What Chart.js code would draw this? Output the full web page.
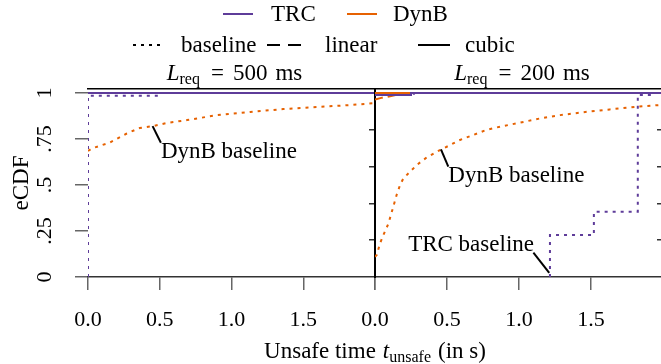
<!DOCTYPE html>
<html>
<head>
<meta charset="utf-8">
<script src="https://cdn.jsdelivr.net/npm/chart.js@4.4.1/dist/chart.umd.min.js"></script>
<style>
  body { margin: 0; background: #fff; }
  #wrap { position: relative; width: 661px; height: 364px; overflow: hidden; background: #fff; }
  #wrap canvas { position: absolute; left: 0; top: 0; }
</style>
</head>
<body>
<div id="wrap">
  <canvas id="c500" width="661" height="364"></canvas>
  <canvas id="c200" width="680" height="364"></canvas>
</div>
<script>
// ---- data (t in s, eCDF value) ----
// L_req = 500 ms
const t500TrcBase = [0, 0, 0.5, 2];
const v500TrcBase = [0, 0.985, 1, 1];
const t500TrcLin = [0, 2];
const v500TrcLin = [1, 1];
const t500TrcCub = [0, 2];
const v500TrcCub = [1, 1];
const t500DynBBase = [0, 0.03, 0.15, 0.27, 0.36, 0.45, 0.55, 0.69, 0.9, 1.13, 1.36, 1.6, 1.83, 2.0];
const v500DynBBase = [0.685, 0.7, 0.73, 0.78, 0.81, 0.82, 0.837, 0.853, 0.88, 0.897, 0.913, 0.924, 0.935, 0.945];
const t500DynBLin = [0, 2];
const v500DynBLin = [1, 1];
const t500DynBCub = [0, 2];
const v500DynBCub = [1, 1];

// L_req = 200 ms
const t200TrcBase = [1.215, 1.215, 1.52, 1.825, 1.93, 2];
const v200TrcBase = [0, 0.228, 0.355, 0.99, 1, 1];
const t200TrcLin = [0, 0.27, 2];
const v200TrcLin = [0.99, 1, 1];
const t200TrcCub = [0, 0.25, 2];
const v200TrcCub = [0.99, 1, 1];
const t200DynBBase = [0, 0.012, 0.035, 0.058, 0.093, 0.127, 0.15, 0.174, 0.197, 0.243, 0.29, 0.359, 0.451,
  0.521, 0.59, 0.683, 0.775, 0.868, 1.007, 1.146, 1.285, 1.47, 1.63, 1.817, 2.0];
const v200DynBBase = [0.11, 0.12, 0.183, 0.228, 0.29, 0.382, 0.446, 0.5, 0.536, 0.572, 0.609, 0.65, 0.69,
  0.717, 0.745, 0.772, 0.8, 0.817, 0.839, 0.862, 0.88, 0.898, 0.911, 0.926, 0.936];
const t200DynBLin = [0, 0.05, 0.12, 0.2, 2];
const v200DynBLin = [0.965, 0.975, 0.985, 1, 1];
const t200DynBCub = [0, 2];
const v200DynBCub = [1, 1];

// axes
const xTicks = [0, 0.5, 1, 1.5, 2];
const xLabels = ['0.0', '0.5', '1.0', '1.5', ''];
const yTicks = [0, 0.25, 0.5, 0.75, 1];
const yLabels = ['0', '.25', '.5', '.75', '1'];
const y2Ticks = [0.2, 0.4, 0.6, 0.8];

// annotations (data coords)
const notes500 = [
  { text: 'DynB baseline', from: [0.45, 0.82], to: [0.508, 0.73], at: [0.508, 0.678], align: 'left' }
];
const notes200 = [
  { text: 'DynB baseline', from: [0.458, 0.694], to: [0.509, 0.6], at: [0.509, 0.552], align: 'left' },
  { text: 'TRC baseline', from: [1.21, 0.023], to: [1.10, 0.132], at: [1.104, 0.174], align: 'right' }
];

const PURPLE = '#5e3c99';
const ORANGE = '#e66101';
const FONT = '"Liberation Serif", "Times New Roman", serif';
const FS = 22;   // tick labels
const TS = 23;   // words
const DOT = [3, 5];
const DASH = [8, 5];

function pts(ts, vs) {
  return ts.map((t, i) => ({ x: t, y: vs[i] }));
}

function line(label, ts, vs, color, dash, stepped) {
  return {
    label: label,
    data: pts(ts, vs),
    borderColor: color,
    borderWidth: 2,
    borderDash: dash,
    pointRadius: 0,
    fill: false,
    stepped: stepped ? 'before' : false,
    tension: 0
  };
}

// draws a run of text pieces (for subscripts / italics); gap = extra space before a piece
function drawParts(ctx, parts, cx, baseline, alignLeft) {
  let w = 0;
  parts.forEach(p => { ctx.font = p.font; w += ctx.measureText(p.text).width + (p.gap || 0); });
  let x = alignLeft ? cx : cx - w / 2;
  ctx.textAlign = 'left';
  ctx.textBaseline = 'alphabetic';
  ctx.fillStyle = '#000';
  parts.forEach(p => {
    ctx.font = p.font;
    x += p.gap || 0;
    ctx.fillText(p.text, x, baseline + (p.dy || 0));
    x += ctx.measureText(p.text).width;
  });
}

function panelPlugin(lreq, notes) {
  return {
    id: 'panel' + lreq,
    afterDraw(chart) {
      const ctx = chart.ctx;
      const xs = chart.scales.x, ys = chart.scales.y;
      const ca = chart.chartArea;
      const f = TS + 'px ' + FONT;
      ctx.save();
      drawParts(ctx, [
        { text: 'L', font: 'italic ' + f },
        { text: 'req', font: '16px ' + FONT, dy: 4 },
        { text: '=', font: f, gap: 11 },
        { text: String(lreq), font: f, gap: 9 },
        { text: 'ms', font: f, gap: 8 }
      ], (ca.left + ca.right) / 2 + 3, 80);
      notes.forEach(n => {
        ctx.beginPath();
        ctx.strokeStyle = '#000';
        ctx.lineWidth = 2;
        ctx.moveTo(xs.getPixelForValue(n.from[0]), ys.getPixelForValue(n.from[1]));
        ctx.lineTo(xs.getPixelForValue(n.to[0]), ys.getPixelForValue(n.to[1]));
        ctx.stroke();
        ctx.font = f;
        ctx.fillStyle = '#000';
        ctx.textAlign = n.align;
        ctx.textBaseline = 'middle';
        ctx.fillText(n.text, xs.getPixelForValue(n.at[0]), ys.getPixelForValue(n.at[1]));
      });
      ctx.restore();
    }
  };
}

const figurePlugin = {
  id: 'figure',
  afterDraw(chart) {
    const ctx = chart.ctx;
    ctx.save();
    const seg = (x1, x2, y, color, dash) => {
      ctx.beginPath();
      ctx.setLineDash(dash);
      ctx.strokeStyle = color;
      ctx.lineWidth = 2;
      ctx.moveTo(x1, y);
      ctx.lineTo(x2, y);
      ctx.stroke();
      ctx.setLineDash([]);
    };
    const f = TS + 'px ' + FONT;
    // legend row 1
    seg(223, 253, 14, PURPLE, []);
    drawParts(ctx, [{ text: 'TRC', font: f }], 271, 21, true);
    seg(347, 377, 14, ORANGE, []);
    drawParts(ctx, [{ text: 'DynB', font: f }], 393, 21, true);
    // legend row 2
    seg(133, 162, 45, '#000', DOT);
    drawParts(ctx, [{ text: 'baseline', font: f }], 181, 52, true);
    seg(267, 302, 45, '#000', [13, 8]);
    drawParts(ctx, [{ text: 'linear', font: f }], 325, 52, true);
    seg(418, 450, 45, '#000', []);
    drawParts(ctx, [{ text: 'cubic', font: f }], 465, 52, true);
    // x title
    drawParts(ctx, [
      { text: 'Unsafe time', font: f },
      { text: 't', font: 'italic ' + f, gap: 7 },
      { text: 'unsafe', font: '16px ' + FONT, dy: 4 },
      { text: '(in s)', font: f, gap: 7 }
    ], 375, 358);
    ctx.restore();
  }
};

function scales(first) {
  const tickFont = { family: FONT, size: FS };
  return {
    x: {
      type: 'linear', min: 0, max: 2,
      afterBuildTicks: s => { s.ticks = xTicks.map(v => ({ value: v })); },
      afterFit: s => { s.height = 87; },
      border: { color: '#333', width: 1.5 },
      grid: { drawOnChartArea: false, tickLength: 13, color: '#666', lineWidth: 1.5 },
      ticks: { autoSkip: false, maxRotation: 0, padding: 17, color: '#000', font: tickFont,
        callback: (v, i) => xLabels[i] }
    },
    xTop: {
      type: 'linear', position: 'top', axis: 'x',
      afterFit: s => { s.height = 0; },
      border: { color: '#000', width: 1.5 },
      grid: { drawOnChartArea: false, drawTicks: false },
      ticks: { display: false }
    },
    y: first ? {
      type: 'linear', min: 0, max: 1.022,
      afterBuildTicks: s => { s.ticks = yTicks.map(v => ({ value: v })); },
      afterFit: s => { s.width = 88; },
      border: { display: false },
      grid: { drawOnChartArea: false, tickLength: 13, color: '#666', lineWidth: 1.5 },
      ticks: { minRotation: 90, maxRotation: 90, crossAlign: 'center', padding: 16, color: '#000',
        font: tickFont, callback: (v, i) => yLabels[i] },
      title: { display: true, text: 'eCDF', color: '#000', font: { family: FONT, size: TS },
        padding: { top: 8, bottom: 0 } }
    } : {
      type: 'linear', min: 0, max: 1.022,
      afterFit: s => { s.width = 0; },
      border: { color: '#000', width: 2 },
      grid: { drawOnChartArea: false, drawTicks: false },
      ticks: { display: false }
    },
    yRight: {
      type: 'linear', position: 'right', axis: 'y', min: 0, max: 1.022,
      afterBuildTicks: s => { s.ticks = y2Ticks.map(v => ({ value: v })); },
      afterFit: s => { s.width = 0; },
      border: { color: '#000', width: 2 },
      grid: { drawOnChartArea: false, tickLength: -6, color: '#333', lineWidth: 1.5 },
      ticks: { display: false }
    }
  };
}

function baseOptions(first, padding) {
  return {
    responsive: false,
    animation: false,
    devicePixelRatio: 1,
    layout: { padding: padding },
    plugins: { legend: { display: false }, tooltip: { enabled: false }, title: { display: false } },
    scales: scales(first)
  };
}

new Chart(document.getElementById('c500'), {
  type: 'line',
  data: {
    datasets: [
      line('TRC cubic', t500TrcCub, v500TrcCub, PURPLE, [], false),
      line('TRC linear', t500TrcLin, v500TrcLin, PURPLE, DASH, false),
      line('TRC baseline', t500TrcBase, v500TrcBase, PURPLE, DOT, true),
      line('DynB cubic', t500DynBCub, v500DynBCub, ORANGE, [], false),
      line('DynB linear', t500DynBLin, v500DynBLin, ORANGE, DASH, false),
      line('DynB baseline', t500DynBBase, v500DynBBase, ORANGE, DOT, false)
    ]
  },
  options: baseOptions(true, { left: 0, top: 89, right: 286, bottom: 0 }),
  plugins: [panelPlugin(500, notes500), figurePlugin]
});

new Chart(document.getElementById('c200'), {
  type: 'line',
  data: {
    datasets: [
      line('TRC cubic', t200TrcCub, v200TrcCub, PURPLE, [], true),
      line('TRC linear', t200TrcLin, v200TrcLin, PURPLE, DASH, true),
      line('TRC baseline', t200TrcBase, v200TrcBase, PURPLE, DOT, true),
      line('DynB cubic', t200DynBCub, v200DynBCub, ORANGE, [], false),
      line('DynB linear', t200DynBLin, v200DynBLin, ORANGE, DASH, false),
      line('DynB baseline', t200DynBBase, v200DynBBase, ORANGE, DOT, false)
    ]
  },
  options: baseOptions(false, { left: 375, top: 89, right: 16, bottom: 0 }),
  plugins: [panelPlugin(200, notes200)]
});
</script>
</body>
</html>
